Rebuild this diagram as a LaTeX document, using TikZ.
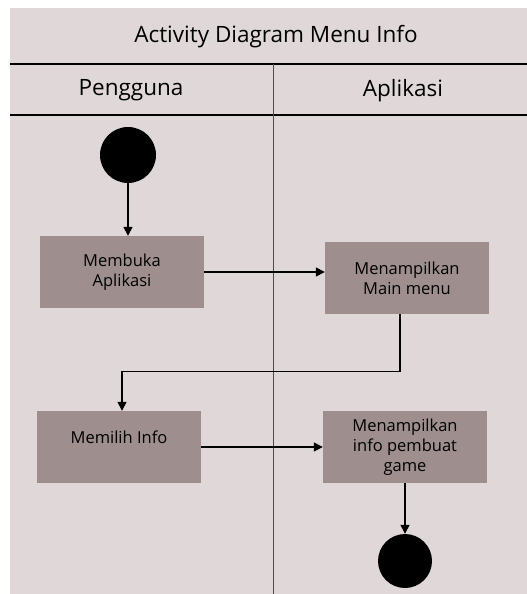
\documentclass[tikz,border=0pt]{standalone}
\usepackage{fontspec}
\setmainfont{Open Sans}
\usetikzlibrary{arrows.meta}
\definecolor{lanebg}{HTML}{E0D8D8}
\definecolor{actfill}{HTML}{9E8E8E}

\begin{document}
\begin{tikzpicture}[x=1pt, y=-1pt,
    act/.style={fill=actfill, minimum width=164pt, minimum height=72pt, inner sep=0pt, align=center, font=\fontsize{16.5}{20}\selectfont},
    dot/.style={circle, fill=black, inner sep=0pt},
    flow/.style={-{Triangle[length=9pt,width=9pt]}, line width=1.4pt}]
    % Background and lanes
    \useasboundingbox (0,0) rectangle (527,594);
    \fill[lanebg] (10,8) rectangle (527,594);
    \draw[line width=1.2pt] (10,64) -- (527,64);
    \draw[line width=1.2pt] (10,115) -- (527,115);
    \draw[line width=0.8pt, black!70] (273,64) -- (273,594);

    % Headers
    \node (title) at (276,37) [font=\fontsize{22.5}{26}\selectfont] {Activity Diagram Menu Info};
    \node (pengguna) at (131,90) [font=\fontsize{22.5}{26}\selectfont] {Pengguna};
    \node (aplikasi) at (403,91) [font=\fontsize{22.5}{26}\selectfont] {Aplikasi};

    % Start node
    \node (start) at (128,155) [dot, minimum size=56pt] {};
    % Pengguna actions
    \node (buka) at (122,272) [act] {Membuka\\Aplikasi};
    \node (pilih) at (119,447) [act] {Memilih Info\\\mbox{}};
    % Aplikasi actions
    \node (mainmenu) at (407,278) [act] {Menampilkan\\Main menu};
    \node (infogame) at (405,447) [act] {Menampilkan\\info pembuat\\game};
    % End node
    \node (end) at (405,561) [dot, minimum size=54pt] {};

    % Edges
    \draw[flow] (start) -- (start |- buka.north);
    \draw[flow] (buka.east) -- (buka.east -| mainmenu.west);
    \draw[flow] ([xshift=-7pt]mainmenu.south) -- ++(0,57) -| ([xshift=3pt]pilih.north);
    \draw[flow] (pilih) -- (infogame);
    \draw[flow] (infogame) -- (end);
\end{tikzpicture}
\end{document}
